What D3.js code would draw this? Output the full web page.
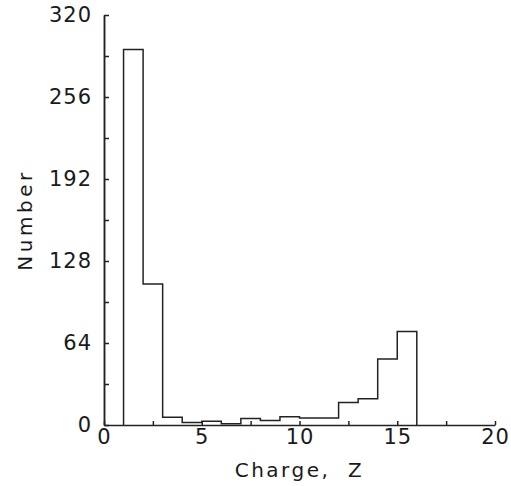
<!DOCTYPE html>
<html>
<head>
  <meta charset="UTF-8">
  <script src="https://d3js.org/d3.v7.min.js"></script>
  <style>
    body { margin: 0; background: #fff; }
    text { font-family: "DejaVu Sans", sans-serif; fill: #1a1a1a; }
  </style>
</head>
<body>
<script>
// histogram of charge Z, bins of width 1
var binStart = [1, 2, 3, 4, 5, 6, 7, 8, 9, 10, 11, 12, 13, 14, 15];
var binEnd   = [2, 3, 4, 5, 6, 7, 8, 9, 10, 11, 12, 13, 14, 15, 16];
var counts   = [293, 110, 6, 2, 3, 1, 5, 3.5, 6.5, 5.5, 5.5, 17.5, 20.5, 51.5, 73];

var yMajor = [0, 64, 128, 192, 256, 320];
var yMinor = [32, 96, 160, 224, 288];
var xMajor = [0, 5, 10, 15, 20];
var xMinor = [2.5, 7.5, 12.5, 17.5];

var width = 511, height = 486;
var margin = { left: 104, right: 495, top: 15, bottom: 425 };

var svg = d3.select('body').append('svg')
  .attr('width', width)
  .attr('height', height);

var x = d3.scaleLinear().domain([0, 20]).range([margin.left, margin.right]);
var y = d3.scaleLinear().domain([0, 320]).range([margin.bottom, margin.top]);

// y axis, ticks pointing inward
svg.append('g')
  .attr('transform', 'translate(' + margin.left + ',0)')
  .call(d3.axisLeft(y).tickValues(yMajor).tickSizeInner(-5).tickSizeOuter(0).tickPadding(12));
svg.append('g')
  .attr('transform', 'translate(' + margin.left + ',0)')
  .call(d3.axisLeft(y).tickValues(yMinor).tickSizeInner(-5).tickSizeOuter(0).tickFormat(''));

// x axis
svg.append('g')
  .attr('transform', 'translate(0,' + margin.bottom + ')')
  .call(d3.axisBottom(x).tickValues(xMajor.concat(xMinor)).tickSizeInner(-4).tickSizeOuter(0)
    .tickPadding(4).tickFormat(function (d) { return xMajor.indexOf(d) >= 0 ? d : ''; }));

svg.selectAll('.domain, .tick line')
  .attr('stroke', '#222')
  .attr('stroke-width', 1.5);
svg.selectAll('.tick text')
  .style('font-size', '21px')
  .style('letter-spacing', '1px')
  .attr('fill', '#1a1a1a');

// step outline of the histogram
var p = d3.path();
p.moveTo(x(binStart[0]), y(0));
for (var i = 0; i < counts.length; i++) {
  p.lineTo(x(binStart[i]), y(counts[i]));
  p.lineTo(x(binEnd[i]), y(counts[i]));
}
p.lineTo(x(binEnd[binEnd.length - 1]), y(0));

svg.append('path')
  .attr('d', p.toString())
  .attr('fill', 'none')
  .attr('stroke', '#222')
  .attr('stroke-width', 1.5);

// axis titles
svg.append('text')
  .attr('x', (margin.left + margin.right) / 2)
  .attr('y', 477)
  .attr('text-anchor', 'middle')
  .style('font-size', '20px')
  .style('letter-spacing', '2.5px')
  .style('white-space', 'pre')
  .text('Charge,  Z');

svg.append('text')
  .attr('transform', 'translate(32,' + (margin.top + margin.bottom) / 2 + ') rotate(-90)')
  .attr('text-anchor', 'middle')
  .style('font-size', '20px')
  .style('letter-spacing', '3.5px')
  .text('Number');
</script>
</body>
</html>
